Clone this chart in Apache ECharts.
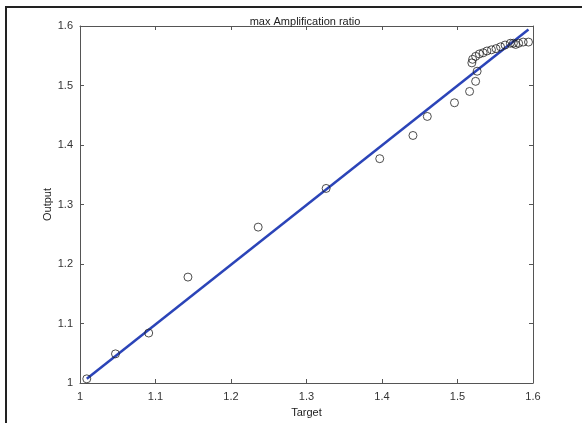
<!DOCTYPE html>
<html>
<head>
<meta charset="utf-8">
<script src="https://cdn.jsdelivr.net/npm/echarts@6/dist/echarts.min.js"></script>
<style>html,body{margin:0;padding:0;background:#fff}#c{width:582px;height:423px}</style>
</head>
<body>
<div id="c"></div>
<script>
var titleText = 'max Amplification ratio';
var xName = 'Target';
var yName = 'Output';
var targets = [1.009, 1.047, 1.091, 1.143, 1.236, 1.326, 1.397, 1.441, 1.460, 1.496, 1.516, 1.524, 1.526, 1.519, 1.520, 1.524, 1.529, 1.534, 1.539, 1.545, 1.551, 1.557, 1.563, 1.570, 1.574, 1.577, 1.581, 1.587, 1.594];
var outputs = [1.007, 1.049, 1.084, 1.178, 1.262, 1.327, 1.377, 1.416, 1.448, 1.471, 1.490, 1.507, 1.524, 1.538, 1.544, 1.549, 1.553, 1.555, 1.558, 1.560, 1.562, 1.565, 1.568, 1.571, 1.571, 1.569, 1.571, 1.573, 1.573];
var fitX = [1.009, 1.594];
var fitY = [1.007, 1.594];
var xTicks = [1, 1.1, 1.2, 1.3, 1.4, 1.5, 1.6];
var yTicks = [1, 1.1, 1.2, 1.3, 1.4, 1.5, 1.6];

var chart = echarts.init(document.getElementById('c'));
var fmt = function (v) { return String(Math.round(v * 10) / 10); };
var font = 'Liberation Sans, Arial, sans-serif';
var axisLine = { show: true, onZero: false, lineStyle: { color: '#555', width: 1 } };
var tick = { show: true, inside: true, length: 4, lineStyle: { color: '#555' } };
function mkAxis(ticks, extra) {
  return Object.assign({
    type: 'value', min: ticks[0], max: ticks[ticks.length - 1], interval: 0.1,
    axisLine: axisLine, axisTick: tick, splitLine: { show: false }
  }, extra);
}
chart.setOption({
  animation: false,
  backgroundColor: '#fff',
  title: { text: titleText, left: 300, top: 11, textAlign: 'center',
    textStyle: { fontFamily: font, fontSize: 11, fontWeight: 'normal', color: '#222' } },
  grid: { left: 80, right: 49, top: 26, bottom: 39, containLabel: false },
  xAxis: [
    mkAxis(xTicks, { position: 'bottom', name: xName, nameLocation: 'middle', nameGap: 24,
      nameTextStyle: { fontFamily: font, fontSize: 11, color: '#222' },
      axisLabel: { formatter: fmt, fontFamily: font, fontSize: 11, color: '#333', margin: 8 } }),
    mkAxis(xTicks, { position: 'top', axisLabel: { show: false } })
  ],
  yAxis: [
    mkAxis(yTicks, { position: 'left', name: yName, nameLocation: 'middle', nameGap: 27,
      nameMoveOverlap: false,
      nameTextStyle: { fontFamily: font, fontSize: 11, color: '#222' },
      axisLabel: { formatter: fmt, fontFamily: font, fontSize: 11, color: '#333', margin: 7 } }),
    mkAxis(yTicks, { position: 'right', axisLabel: { show: false } })
  ],
  graphic: [{
    type: 'polyline', silent: true,
    shape: { points: [[6, 423], [6, 7], [582, 7]] },
    style: { stroke: '#222', lineWidth: 2, fill: null }
  }],
  series: [
    {
      type: 'line', xAxisIndex: 0, yAxisIndex: 0,
      data: fitX.map(function (x, i) { return [x, fitY[i]]; }),
      symbol: 'none', lineStyle: { color: '#2b44b8', width: 2.5 }, z: 2
    },
    {
      type: 'scatter', xAxisIndex: 0, yAxisIndex: 0,
      data: targets.map(function (x, i) { return [x, outputs[i]]; }),
      symbol: 'circle', symbolSize: 8,
      itemStyle: { color: 'rgba(255,255,255,0)', borderColor: '#222', borderWidth: 1 }, z: 3
    }
  ]
});
</script>
</body>
</html>
